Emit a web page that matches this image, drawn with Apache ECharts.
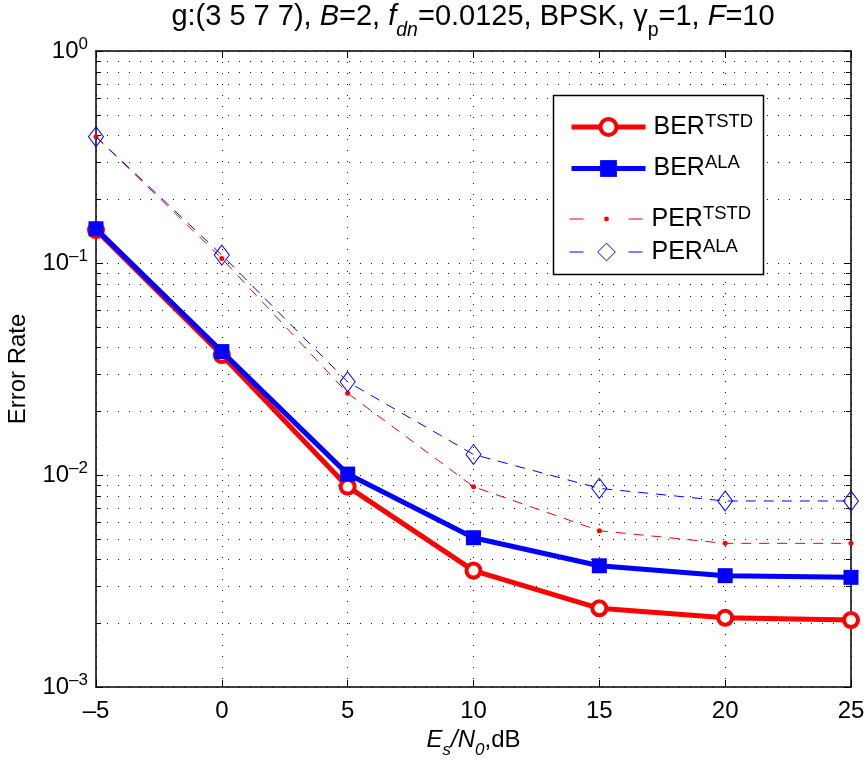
<!DOCTYPE html>
<html><head><meta charset="utf-8">
<script src="https://cdn.jsdelivr.net/npm/echarts@6/dist/echarts.min.js"></script>
<style>html,body{margin:0;padding:0;background:#fff}#c{width:866px;height:760px}</style>
</head><body><div id="c"></div>
<script>
// ---- data ----
const snr = [-5, 0, 5, 10, 15, 20, 25];
const berTSTD = [0.143, 0.0368, 0.00881, 0.00354, 0.00235, 0.00212, 0.00207];
const berALA  = [0.145, 0.0382, 0.0101, 0.00506, 0.00373, 0.00335, 0.00329];
const perTSTD = [0.394, 0.105, 0.0243, 0.00881, 0.00546, 0.00476, 0.00476];
const perALA  = [0.394, 0.109, 0.0275, 0.0125, 0.00865, 0.00754, 0.00754];
const xMin = -5, xMax = 25, xStep = 5;
const yMin = 0.001, yMax = 1;
const yMinor = [0.002,0.003,0.004,0.005,0.006,0.007,0.008,0.009,
                0.02,0.03,0.04,0.05,0.06,0.07,0.08,0.09,
                0.2,0.3,0.4,0.5,0.6,0.7,0.8,0.9];
const seriesNames = ['BER_TSTD','BER_ALA','PER_TSTD','PER_ALA'];
const legendBase = {BER_TSTD:'BER', BER_ALA:'BER', PER_TSTD:'PER', PER_ALA:'PER'};
const legendSup  = {BER_TSTD:'TSTD', BER_ALA:'ALA', PER_TSTD:'TSTD', PER_ALA:'ALA'};

const FONT = 'Liberation Sans, Arial, Helvetica, sans-serif';
const RED = '#ff0000', BLUE = '#0000ff';
const zip = (xs, ys) => xs.map((x, i) => [x, ys[i]]);
const dotted = {color:'#111', width:1, type:[1,10]};

const chart = echarts.init(document.getElementById('c'), null, {renderer:'canvas'});

const legendRich = {
  b0:{fontFamily:FONT, fontSize:25, color:'#000', lineHeight:30, padding:[0,0,0,3]},
  s:{fontFamily:FONT, fontSize:18.5, color:'#000', lineHeight:12, verticalAlign:'top'}
};
const rowCenters = [122, 164, 207, 248];
const rowHeights = [20, 21, 6, 22];
const legendItemStyle = [
  {color:'#fff', borderColor:RED, borderWidth:4},
  {color:BLUE, borderColor:BLUE, borderWidth:0},
  {color:RED, borderColor:RED, borderWidth:0},
  {color:'#fff', borderColor:BLUE, borderWidth:1}
];
const legendLineStyle = [
  {color:RED, width:5, type:'solid'},
  {color:BLUE, width:5, type:'solid'},
  {color:RED, width:1, type:[14,45]},
  {color:BLUE, width:1, type:[14,45]}
];
const legends = seriesNames.map((n, i) => ({
  data:[{name:n, itemStyle:legendItemStyle[i], lineStyle:legendLineStyle[i]}],
  left:569, top:rowCenters[i] - rowHeights[i]/2, orient:'vertical',
  itemWidth:74, itemHeight:rowHeights[i], padding:0, selectedMode:false,
  formatter:(name) => '{b0|' + legendBase[name] + '}{s|' + legendSup[name] + '}',
  textStyle:{rich:legendRich}
}));

const tickFont = {fontFamily:FONT, fontSize:24, color:'#000'};
const axisLineStyle = {color:'#000', width:1.5};

const option = {
  animation:false,
  backgroundColor:'#fff',
  title:{
    text:'{n|g:(3 5 7 7), }{i|B}{n|=2, }{i|f}{subi|dn}{n|=0.0125, BPSK, γ}{sub|p}{n|=1, }{i|F}{n|=10}',
    left:473, top:-7, textAlign:'center', padding:0,
    textStyle:{fontFamily:FONT, fontSize:29, fontWeight:'normal', color:'#000', lineHeight:48,
      rich:{
        n:{fontFamily:FONT, fontSize:29, color:'#000', lineHeight:48},
        i:{fontFamily:FONT, fontSize:29, fontStyle:'italic', color:'#000', lineHeight:48},
        subi:{fontFamily:FONT, fontSize:19.5, fontStyle:'italic', color:'#000', lineHeight:6, verticalAlign:'bottom'},
        sub:{fontFamily:FONT, fontSize:19.5, color:'#000', lineHeight:6, verticalAlign:'bottom'}
      }}
  },
  legend:legends,
  grid:{left:96, top:51, width:755, height:636, containLabel:false, outerBoundsMode:'none'},
  xAxis:[{
    type:'value', min:xMin, max:xMax, interval:xStep, position:'bottom',
    axisLine:{show:true, onZero:false, lineStyle:axisLineStyle},
    axisTick:{show:true, inside:true, length:7, lineStyle:{color:'#000', width:1}},
    axisLabel:{...tickFont, margin:12, formatter:(v) => v < 0 ? '–' + (-v) : String(v)},
    splitLine:{show:true, lineStyle:dotted},
    name:'{i|E}{subi|s}{i|/N}{subi|0}{n|,dB}', nameLocation:'middle', nameGap:32,
    nameTextStyle:{rich:{
      i:{fontFamily:FONT, fontSize:24, fontStyle:'italic', color:'#000', lineHeight:38},
      subi:{fontFamily:FONT, fontSize:17, fontStyle:'italic', color:'#000', lineHeight:6, verticalAlign:'bottom'},
      n:{fontFamily:FONT, fontSize:24, color:'#000', lineHeight:38}
    }}
  },{
    type:'value', min:xMin, max:xMax, interval:xStep, position:'top',
    axisLine:{show:true, onZero:false, lineStyle:axisLineStyle},
    axisTick:{show:true, inside:true, length:7, lineStyle:{color:'#000', width:1}},
    axisLabel:{show:false}, splitLine:{show:false}
  }],
  yAxis:[{
    type:'log', logBase:10, min:yMin, max:yMax, position:'left',
    axisLine:{show:true, onZero:false, lineStyle:axisLineStyle},
    axisTick:{show:true, inside:true, length:7, lineStyle:{color:'#000', width:1}},
    axisLabel:{margin:8, formatter:(v) => {
        const e = Math.round(Math.log10(v));
        return '{b|10}{s|' + (e < 0 ? '–' + (-e) : String(e)) + '}';
      },
      rich:{
        b:{fontFamily:FONT, fontSize:24, color:'#000', lineHeight:30},
        s:{fontFamily:FONT, fontSize:17, color:'#000', lineHeight:12, verticalAlign:'top'}
      }},
    splitLine:{show:true, lineStyle:dotted},
    name:'Error Rate', nameLocation:'middle', nameGap:66,
    nameTextStyle:{fontFamily:FONT, fontSize:24, color:'#000'}
  },{
    type:'log', logBase:10, min:yMin, max:yMax, position:'right',
    axisLine:{show:true, onZero:false, lineStyle:axisLineStyle},
    axisTick:{show:true, inside:true, length:7, lineStyle:{color:'#000', width:1}},
    axisLabel:{show:false}, splitLine:{show:false}
  }],
  graphic:[{
    type:'rect', z:3, silent:true,
    shape:{x:553.5, y:95.5, width:210, height:179},
    style:{fill:'#fff', stroke:'#000', lineWidth:1.5}
  }],
  series:[
    {
      type:'custom', name:'minor', silent:true, z:1, xAxisIndex:0, yAxisIndex:0,
      data:yMinor.map(v => [xMin, v, xMax]),
      renderItem:(params, api) => {
        const p0 = api.coord([api.value(0), api.value(1)]);
        const p1 = api.coord([api.value(2), api.value(1)]);
        const y = Math.round(p0[1]) + 0.5;
        return {type:'group', children:[
          {type:'line', shape:{x1:p0[0], y1:y, x2:p1[0], y2:y}, style:{stroke:'#111', lineWidth:1, lineDash:[1,10]}},
          {type:'line', shape:{x1:p0[0], y1:y, x2:p0[0]+5, y2:y}, style:{stroke:'#000', lineWidth:1}},
          {type:'line', shape:{x1:p1[0]-5, y1:y, x2:p1[0], y2:y}, style:{stroke:'#000', lineWidth:1}}
        ]};
      }
    },
    {
      name:'BER_TSTD', type:'line', data:zip(snr, berTSTD), clip:false, z:3,
      symbol:'circle', symbolSize:14, showAllSymbol:true,
      itemStyle:{color:'#fff', borderColor:RED, borderWidth:4},
      lineStyle:{color:RED, width:5}, emphasis:{disabled:true}
    },
    {
      name:'BER_ALA', type:'line', data:zip(snr, berALA), clip:false, z:4,
      symbol:'rect', symbolSize:15, showAllSymbol:true,
      itemStyle:{color:BLUE},
      lineStyle:{color:BLUE, width:5}, emphasis:{disabled:true}
    },
    {
      name:'PER_TSTD', type:'line', data:zip(snr, perTSTD), clip:false, z:5,
      symbol:'circle', symbolSize:5, showAllSymbol:true,
      itemStyle:{color:RED},
      lineStyle:{color:RED, width:1, type:[10,8]}, emphasis:{disabled:true}
    },
    {
      name:'PER_ALA', type:'line', data:zip(snr, perALA), clip:false, z:6,
      symbol:'diamond', symbolSize:[15,20], showAllSymbol:true,
      itemStyle:{color:'rgba(0,0,0,0)', borderColor:BLUE, borderWidth:1},
      lineStyle:{color:BLUE, width:1, type:[10,8]}, emphasis:{disabled:true}
    }
  ]
};
chart.setOption(option);
</script>
</body></html>
